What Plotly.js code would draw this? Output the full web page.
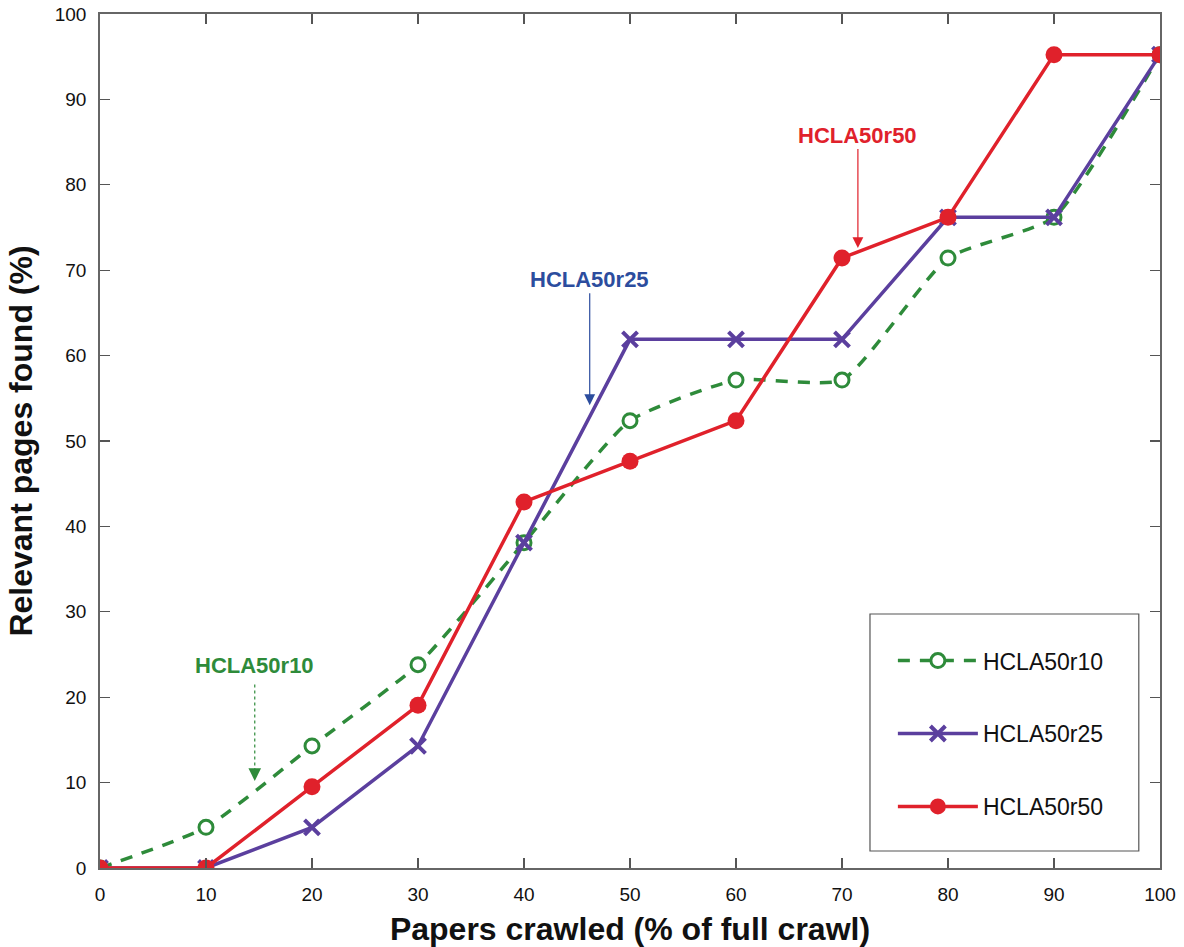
<!DOCTYPE html>
<html>
<head>
<meta charset="utf-8">
<script src="https://cdn.plot.ly/plotly-3.0.1.min.js"></script>
<style>html,body{margin:0;padding:0;background:#fff;}#chart{width:1184px;height:947px;}</style>
</head>
<body>
<div id="chart"></div>
<script>
var crawled = [0, 10, 20, 30, 40, 50, 60, 70, 80, 90, 100];
var r10 = [0, 4.76, 14.29, 23.81, 38.10, 52.38, 57.14, 57.14, 71.43, 76.19, 95.24];
var r25 = [0, 0, 4.76, 14.29, 38.10, 61.90, 61.90, 61.90, 76.19, 76.19, 95.24];
var r50 = [0, 0, 9.52, 19.05, 42.86, 47.62, 52.38, 71.43, 76.19, 95.24, 95.24];
var seriesNames = ['HCLA50r10', 'HCLA50r25', 'HCLA50r50'];
var xTicks = [0, 10, 20, 30, 40, 50, 60, 70, 80, 90, 100];
var yTicks = [0, 10, 20, 30, 40, 50, 60, 70, 80, 90, 100];

var green = '#2e8b3a', purple = '#5b3f9e', red = '#e0212b';

var traces = [
  {x: crawled, y: r10, name: seriesNames[0], mode: 'lines+markers', legendgroup: 'a',
   line: {color: green, width: 3.5, dash: '12px,10px', shape: 'spline', smoothing: 0.5},
   marker: {symbol: 'circle', size: 14, color: '#ffffff', line: {width: 3, color: green}}},
  {x: crawled, y: r25, name: seriesNames[1], mode: 'lines+markers', legendgroup: 'b',
   line: {color: purple, width: 3.5},
   marker: {symbol: 'x-thin-open', size: 15, color: purple, line: {width: 4, color: purple}}},
  {x: crawled, y: r50, name: seriesNames[2], mode: 'lines+markers', legendgroup: 'c',
   line: {color: red, width: 3.5},
   marker: {symbol: 'circle', size: 17, color: red}}
];

var layout = {
  width: 1184, height: 947,
  margin: {l: 100, r: 24, t: 14, b: 79},
  paper_bgcolor: '#ffffff', plot_bgcolor: '#ffffff',
  font: {family: 'Liberation Sans, Arial, sans-serif', color: '#111'},
  showlegend: true,
  legend: {
    x: 0.748, y: 0.268, xanchor: 'left', yanchor: 'top',
    borderwidth: 0, bgcolor: 'rgba(0,0,0,0)',
    font: {size: 23, family: 'Liberation Sans, Arial, sans-serif', color: '#111'},
    traceorder: 'grouped', tracegroupgap: 40, itemwidth: 80
  },
  xaxis: {
    range: [0, 100], tickvals: xTicks, ticktext: xTicks.map(String),
    ticks: 'inside', ticklen: 10, tickcolor: '#555', tickwidth: 1.2,
    showline: true, linecolor: '#666', linewidth: 1.8, mirror: 'ticks',
    showgrid: false, zeroline: false, ticklabelstandoff: 8,
    tickfont: {family: 'Liberation Sans Narrow, Arial Narrow, Liberation Sans, sans-serif', size: 19, color: '#111'},
    title: {text: 'Papers crawled (% of full crawl)', standoff: 14,
      font: {family: 'Liberation Sans Narrow, Arial Narrow, Liberation Sans, sans-serif', size: 32, color: '#111', weight: 'bold'}}
  },
  yaxis: {
    range: [0, 100], tickvals: yTicks, ticktext: yTicks.map(String),
    ticks: 'inside', ticklen: 10, tickcolor: '#555', tickwidth: 1.2,
    showline: true, linecolor: '#666', linewidth: 1.8, mirror: 'ticks',
    showgrid: false, zeroline: false, ticklabelstandoff: 8,
    tickfont: {family: 'Liberation Sans, Arial, sans-serif', size: 19, color: '#111'},
    title: {text: 'Relevant pages found (%)', standoff: 12,
      font: {family: 'Liberation Sans, Arial, sans-serif', size: 32, color: '#111', weight: 'bold'}}
  },
  shapes: [
    {type: 'rect', xref: 'paper', yref: 'paper', x0: 0.7264, x1: 0.980, y0: 0.0199, y1: 0.2974,
     line: {color: '#555', width: 1.2}, fillcolor: 'rgba(0,0,0,0)', layer: 'above'},
    {type: 'line', xref: 'x', yref: 'y', x0: 14.6, x1: 14.6, y0: 21.5, y1: 11.5,
     line: {color: green, width: 1.2, dash: 'dot'}}
  ],
  annotations: [
    {x: 14.6, y: 22.0, xref: 'x', yref: 'y', text: '<b>HCLA50r10</b>', showarrow: false,
     font: {size: 22, color: green, family: 'Liberation Sans, Arial, sans-serif'}, yanchor: 'bottom'},
    {x: 14.6, y: 10.2, xref: 'x', yref: 'y', text: '', showarrow: true, arrowhead: 2, arrowsize: 1.8,
     arrowwidth: 1.4, arrowcolor: green, ax: 0, ay: -14},
    {x: 46.2, y: 54.2, xref: 'x', yref: 'y', text: '<b>HCLA50r25</b>', showarrow: true,
     arrowhead: 2, arrowsize: 1.8, arrowwidth: 1.2, arrowcolor: '#2c4d9e', ax: 0, ay: -126,
     font: {size: 22, color: '#2c4d9e', family: 'Liberation Sans, Arial, sans-serif'}},
    {x: 71.5, y: 72.6, xref: 'x', yref: 'y', text: '<b>HCLA50r50</b>', showarrow: true,
     arrowhead: 2, arrowsize: 1.8, arrowwidth: 1.2, arrowcolor: red, ax: 0, ay: -113,
     font: {size: 22, color: red, family: 'Liberation Sans, Arial, sans-serif'}}
  ]
};

Plotly.newPlot('chart', traces, layout, {displayModeBar: false, staticPlot: true});
</script>
</body>
</html>
